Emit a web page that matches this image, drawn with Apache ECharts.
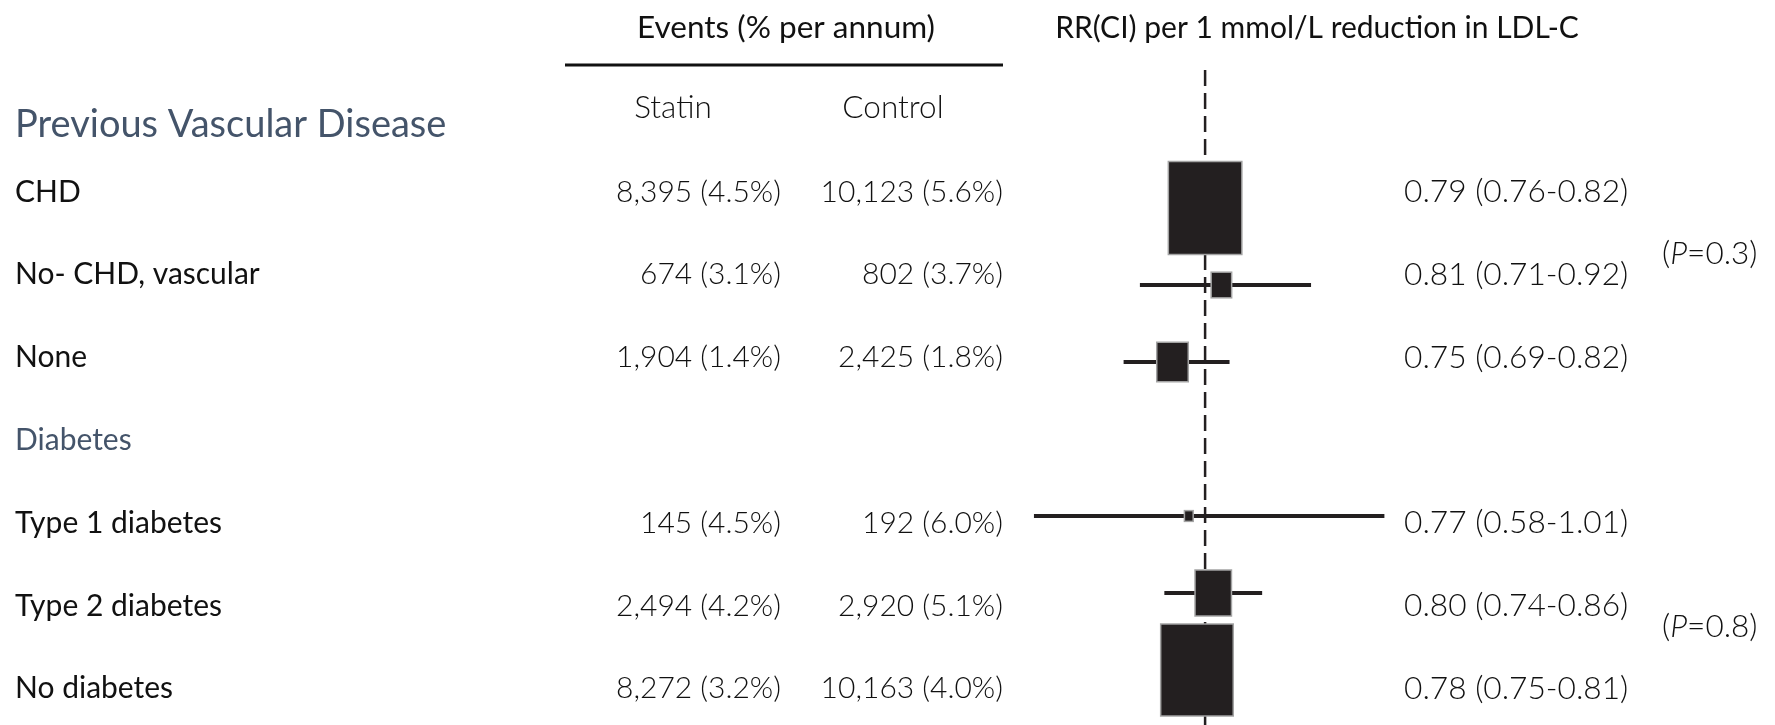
<!DOCTYPE html>
<html>
<head>
<meta charset="utf-8">
<script src="https://cdn.jsdelivr.net/npm/echarts@6/dist/echarts.min.js"></script>
<style>
  html, body { margin: 0; padding: 0; background: #fff; }
  #main { width: 1775px; height: 725px; }
</style>
</head>
<body>
<div id="main"></div>
<script>
// subgroup data
var groups = ['Previous Vascular Disease', 'Diabetes'];
var categories = ['CHD', 'No- CHD, vascular', 'None', 'Type 1 diabetes', 'Type 2 diabetes', 'No diabetes'];
var groupOf = [0, 0, 0, 1, 1, 1];
var statinEvents = [8395, 674, 1904, 145, 2494, 8272];
var statinPct = [4.5, 3.1, 1.4, 4.5, 4.2, 3.2];
var controlEvents = [10123, 802, 2425, 192, 2920, 10163];
var controlPct = [5.6, 3.7, 1.8, 6.0, 5.1, 4.0];
var rr = [0.79, 0.81, 0.75, 0.77, 0.80, 0.78];
var rrLow = [0.76, 0.71, 0.69, 0.58, 0.74, 0.75];
var rrHigh = [0.82, 0.92, 0.82, 1.01, 0.86, 0.81];
var pInteraction = ['0.3', '0.8'];
var overallRR = 0.79;

// layout
var W = 1775, H = 725;
var INK = '#231f20';
var HEAD = '#44546a';
var FONT = 'Lato';
var TEXT_ROW0 = 192, TEXT_ROW_H = 82.8;   // table rows
var PLOT_ROW0 = 208, PLOT_ROW_H = 77;     // forest rows
var COL_LABEL = 15, COL_STATIN = 781, COL_CONTROL = 1003, COL_RR = 1404, COL_P = 1662;
var pSlot = [0.75, 5.25];
var BOX_K = 5.7, BOX_ASPECT = 1.27;

var slot = categories.map(function (c, i) { return i + groupOf[i]; });
function fmtEv(n, p) { return n.toLocaleString('en-US') + ' (' + p.toFixed(1) + '%)'; }

var tableData = categories.map(function (c, i) {
    return [slot[i], c, fmtEv(statinEvents[i], statinPct[i]), fmtEv(controlEvents[i], controlPct[i]),
        rr[i].toFixed(2) + ' (' + rrLow[i].toFixed(2) + '-' + rrHigh[i].toFixed(2) + ')'];
});
var forestData = categories.map(function (c, i) {
    return [rr[i], slot[i], rrLow[i], rrHigh[i]];
});

function txt(x, y, s, align, weight, size, color) {
    return {
        type: 'text', x: x, y: y,
        style: {
            text: s, fill: color || '#111', textAlign: align, textVerticalAlign: 'middle',
            fontFamily: FONT, fontSize: size || 30, fontWeight: weight || 'normal'
        }
    };
}

function renderTable(params, api) {
    var i = params.dataIndex;
    var row = tableData[i];
    var y = api.coord([0, row[0]])[1];
    return {
        type: 'group',
        children: [
            txt(api.coord([COL_LABEL, 0])[0], y, row[1], 'left', 'normal'),
            txt(api.coord([COL_STATIN, 0])[0], y, row[2], 'right', 300),
            txt(api.coord([COL_CONTROL, 0])[0], y, row[3], 'right', 300),
            txt(api.coord([COL_RR, 0])[0], y, row[4], 'left', 300, 31.7)
        ]
    };
}

function renderP(params, api) {
    var p = api.coord([COL_P, api.value(1)]);
    return {
        type: 'text', x: p[0], y: p[1],
        style: {
            text: '(' + '{i|P}' + '=' + pInteraction[params.dataIndex] + ')',
            rich: { i: { fontStyle: 'italic', fontFamily: FONT, fontSize: 31.5, fontWeight: 300, fill: '#111' } },
            fill: '#111', textAlign: 'left', textVerticalAlign: 'middle',
            fontFamily: FONT, fontSize: 31.5, fontWeight: 300
        }
    };
}

function renderForest(params, api) {
    var y = api.value(1);
    var c = api.coord([api.value(0), y]);
    var lo = api.coord([api.value(2), y]);
    var hi = api.coord([api.value(3), y]);
    var w = BOX_K / Math.log(api.value(3) / api.value(2)) - 3;
    var h = w * BOX_ASPECT;
    return {
        type: 'group',
        children: [
            { type: 'line', shape: { x1: lo[0], y1: lo[1], x2: hi[0], y2: hi[1] },
              style: { stroke: INK, lineWidth: 4 } },
            { type: 'rect', shape: { x: c[0] - w / 2 - 1.5, y: c[1] - h / 2 - 1.5, width: w + 3, height: h + 3 },
              style: { fill: '#a3a3a3' } },
            { type: 'rect', shape: { x: c[0] - w / 2, y: c[1] - h / 2, width: w, height: h },
              style: { fill: INK } }
        ]
    };
}

var plotMin = -PLOT_ROW0 / PLOT_ROW_H, plotMax = (H - PLOT_ROW0) / PLOT_ROW_H;
var refTop = (70 - PLOT_ROW0) / PLOT_ROW_H;

var chart = echarts.init(document.getElementById('main'));
chart.setOption({
    backgroundColor: '#fff',
    animation: false,
    grid: [
        { left: 0, top: 0, width: W, height: H },
        { left: 1009.5, top: 0, width: 407.5, height: H }
    ],
    xAxis: [
        { gridIndex: 0, type: 'value', min: 0, max: W, show: false },
        { gridIndex: 1, type: 'value', min: 0.55, max: 1.05, show: false }
    ],
    yAxis: [
        { gridIndex: 0, type: 'value', inverse: true, show: false,
          min: -TEXT_ROW0 / TEXT_ROW_H, max: (H - TEXT_ROW0) / TEXT_ROW_H },
        { gridIndex: 1, type: 'value', inverse: true, show: false, min: plotMin, max: plotMax }
    ],
    series: [
        {
            type: 'custom', xAxisIndex: 0, yAxisIndex: 0,
            data: tableData.map(function (r) { return [0, r[0]]; }),
            renderItem: renderTable, silent: true
        },
        {
            type: 'custom', xAxisIndex: 0, yAxisIndex: 0,
            data: pSlot.map(function (s) { return [COL_P, s]; }),
            renderItem: renderP, silent: true
        },
        {
            // overall reference line
            type: 'line', xAxisIndex: 1, yAxisIndex: 1, symbol: 'none', silent: true, z: 1,
            data: [[overallRR, refTop], [overallRR, plotMax]],
            lineStyle: { color: INK, width: 2.5, type: [16, 7] }
        },
        {
            type: 'custom', xAxisIndex: 1, yAxisIndex: 1, z: 3,
            data: forestData, renderItem: renderForest, silent: true
        }
    ],
    graphic: [
        txt(786, 28, 'Events (% per annum)', 'center', 'normal', 31.5),
        { type: 'line', shape: { x1: 565, y1: 65, x2: 1003, y2: 65 }, style: { stroke: '#111', lineWidth: 3 } },
        txt(673, 108, 'Statin', 'center', 300, 31.5),
        txt(893, 108, 'Control', 'center', 300, 31.5),
        txt(1317, 28, 'RR(CI) per 1 mmol/L reduction in LDL-C', 'center', 'normal'),
        txt(COL_LABEL, 125, groups[0], 'left', 'normal', 38, HEAD),
        txt(COL_LABEL, TEXT_ROW0 + 3 * TEXT_ROW_H, groups[1], 'left', 'normal', 30, HEAD)
    ]
});
</script>
</body>
</html>
